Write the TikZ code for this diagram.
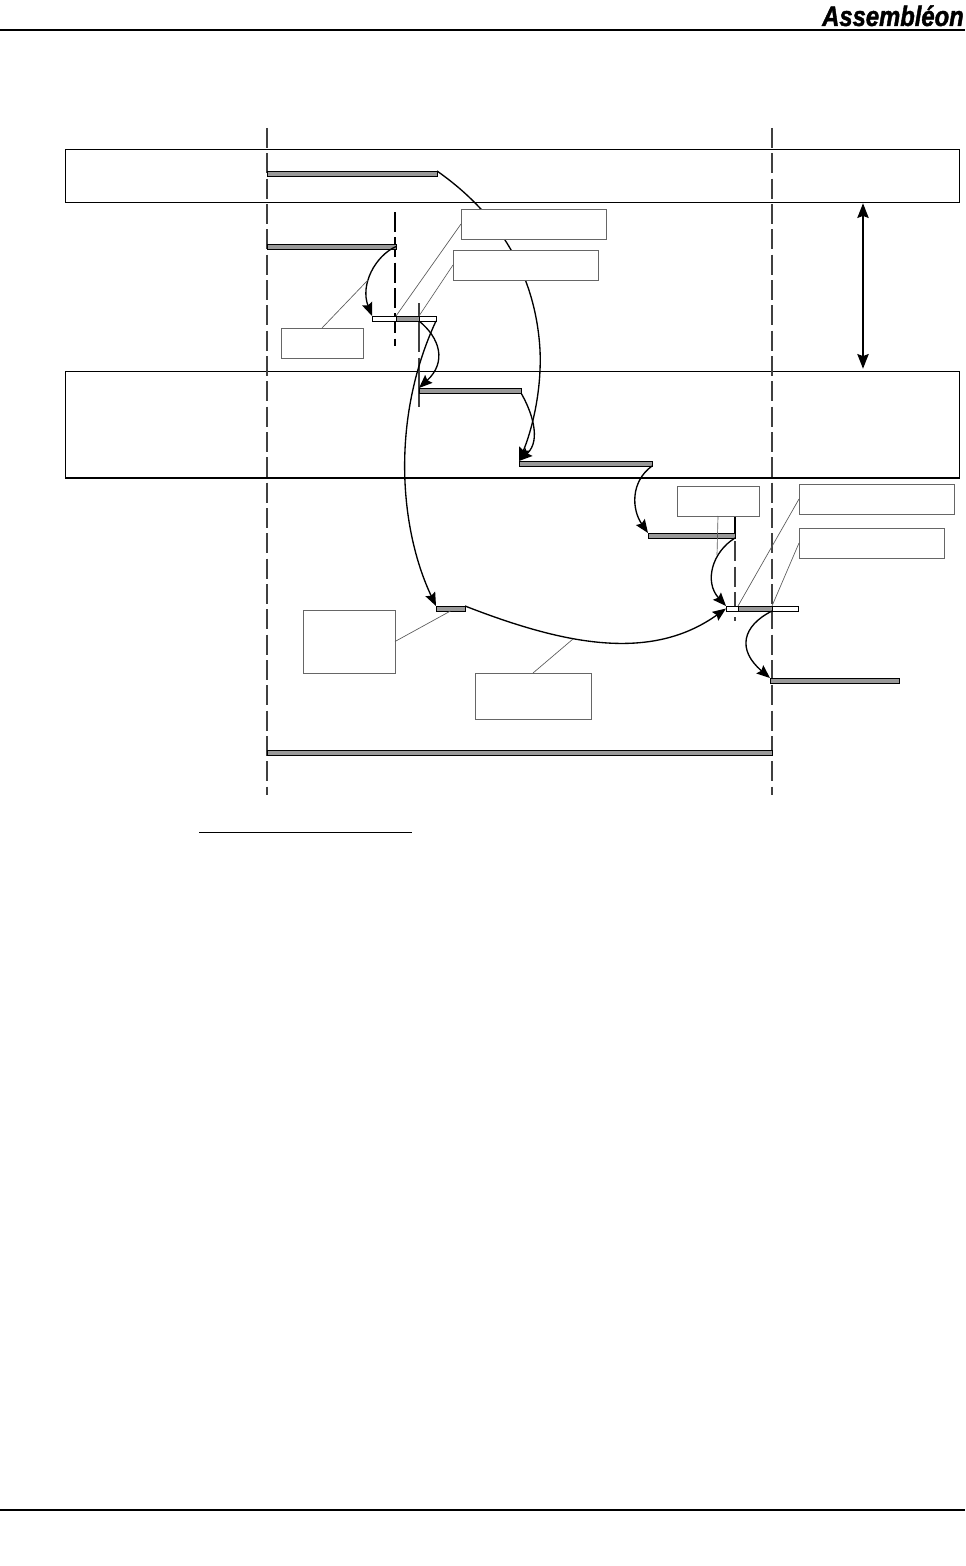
\documentclass[tikz,border=0pt]{standalone}
\usepackage{fontspec}
\setmainfont{Liberation Sans}
\newfontfamily\logofont{Liberation Sans}[BoldItalicFeatures={FakeBold=1.6}]
\usetikzlibrary{arrows.meta}
\tikzset{
  x=0.75pt,y=-0.75pt,
  rule/.style={line width=1.5pt,black},
  lane/.style={draw=black,line width=0.6pt,inner sep=0pt,outer sep=0pt},
  timebar/.style={draw=black,fill=black!40,line width=0.7pt,inner sep=0pt,outer sep=0pt},
  slack/.style={draw=black,fill=white,line width=0.7pt,inner sep=0pt,outer sep=0pt},
  note/.style={draw=black!60,fill=white,line width=0.7pt,inner sep=0pt,outer sep=0pt},
  marker/.style={black!75,line width=1.1pt,dash pattern=on 15pt off 4pt},
  flow/.style={black,line width=1pt,-{Stealth[length=10pt,width=8pt,inset=1.5pt]}},
  leader/.style={black!65,line width=0.5pt},
}
\newcommand{\pbox}[6]{\node[#2,minimum width={(#5-#3)*0.75pt},minimum height={(#6-#4)*0.75pt}] (#1) at ({(#3+#5)/2},{(#4+#6)/2}) {};}
\begin{document}
\begin{tikzpicture}
\useasboundingbox (0,0) rectangle (965,1566);
% page furniture
\coordinate (hl) at (0,30); \coordinate (hr) at (965,30);
\coordinate (fl) at (0,1510); \coordinate (fr) at (965,1510);
\draw[rule] (hl) -- (hr);
\draw[rule] (fl) -- (fr);
\node[anchor=south east,inner sep=0pt,font=\logofont\bfseries\itshape] (logo) at (964,26.5) {\scalebox{0.85}[1]{\fontsize{21}{21}\selectfont Assembléon}};
\coordinate (ul) at (199,832); \coordinate (ur) at (412,832);
\draw[black,line width=0.7pt] (ul) -- (ur);
% lanes
\pbox{laneA}{lane}{65}{149}{959}{202}
\pbox{laneB}{lane}{65}{371}{959}{478}
\draw[black,line width=1.5pt] (laneB.south west) -- (laneB.south east);
% time markers
\coordinate (m1t) at (267,128); \coordinate (m1b) at (267,795);
\coordinate (m2t) at (772,128); \coordinate (m2b) at (772,795);
\coordinate (m3t) at (395,212); \coordinate (m3b) at (395,346);
\coordinate (m4t) at (419,303); \coordinate (m4b) at (419,408);
\coordinate (m5t) at (735,516); \coordinate (m5s) at (735,538); \coordinate (m5b) at (735,621);
\draw[marker] (m1t) -- (m1b);
\draw[marker] (m2t) -- (m2b);
\draw[marker,black] (m3t) -- (m3b);
\draw[marker,dash pattern=on 37pt off 4pt] (m4t) -- (m4b);
\draw[marker] (m5t) -- (m5b);
\draw[black,line width=1.2pt] (m5t) -- (m5s);
% bars
\pbox{barA}{timebar}{267}{171}{437}{176}
\pbox{barB}{timebar}{267}{244}{396}{249}
\pbox{barC}{slack}{372}{316}{436}{321}
\pbox{barCi}{timebar}{396}{316}{419}{321}
\pbox{barD}{timebar}{419}{388}{521}{393}
\pbox{barE}{timebar}{519}{461}{652}{466}
\pbox{barF}{timebar}{648}{533}{735}{538}
\pbox{barG}{slack}{726}{606}{798}{611}
\pbox{barGi}{timebar}{738}{606}{772}{611}
\pbox{barH}{timebar}{770}{678}{899}{683}
\pbox{barI}{timebar}{436}{606}{465}{611}
\pbox{barJ}{timebar}{267}{750}{772}{755}
% flows
\draw[flow] (barA.north east) .. controls (487,206) and (535,262) .. (540,350) .. controls (542,395) and (530,435) .. (barE.north west);
\draw[flow] (barB.east) .. controls (375,256) and (360,285) .. (barC.north west);
\draw[flow] (barCi.south east) .. controls (440,338) and (447,362) .. (barD.north west);
\draw[flow] (barC.south east) .. controls (390,420) and (400,530) .. (barI.north west);
\draw[flow] (barD.south east) .. controls (531,410) and (542,440) .. (barE.north west);
\draw[flow] (barE.south east) .. controls (630,482) and (632,510) .. (barF.north west);
\draw[flow] (barF.south east) .. controls (712,552) and (704,582) .. (barG.north west);
\draw[flow] (barI.north east) .. controls (565,645) and (651,662) .. (barG.west);
\draw[flow] (barGi.south east) .. controls (742,626) and (737,650) .. (barH.north west);
% double arrow
\pbox{dT}{inner sep=0pt}{863}{203}{863}{203}
\pbox{dB}{inner sep=0pt}{863}{369}{863}{369}
\draw[black,line width=1.2pt,{Stealth[length=11pt,width=8.5pt,inset=1.5pt]}-{Stealth[length=11pt,width=8.5pt,inset=1.5pt]}] (dT) -- (dB);
% notes
\pbox{n1}{note}{461}{209}{606}{239}
\pbox{n2}{note}{453}{250}{598}{280}
\pbox{n3}{note}{281}{328}{363}{358}
\pbox{n4}{note}{677}{486}{759}{516}
\pbox{n5}{note}{799}{484}{954}{514}
\pbox{n6}{note}{799}{528}{944}{558}
\pbox{n7}{note}{303}{610}{395}{673}
\pbox{n8}{note}{475}{673}{591}{719}
% leaders
\coordinate (c3) at (368,280);
\coordinate (c4) at (717,555);
\coordinate (c8) at (573,639);
\draw[leader] (n1.west) -- (barCi.north west);
\draw[leader] (n2.west) -- (barCi.north east);
\draw[leader] (n3.north) -- (c3);
\draw[leader] (n4.south) -- (c4);
\draw[leader] (n5.west) -- (barGi.north west);
\draw[leader] (n6.west) -- (barGi.north east);
\draw[leader] (n7.east) -- (barI.south);
\draw[leader] (n8.north) -- (c8);
\end{tikzpicture}
\end{document}
